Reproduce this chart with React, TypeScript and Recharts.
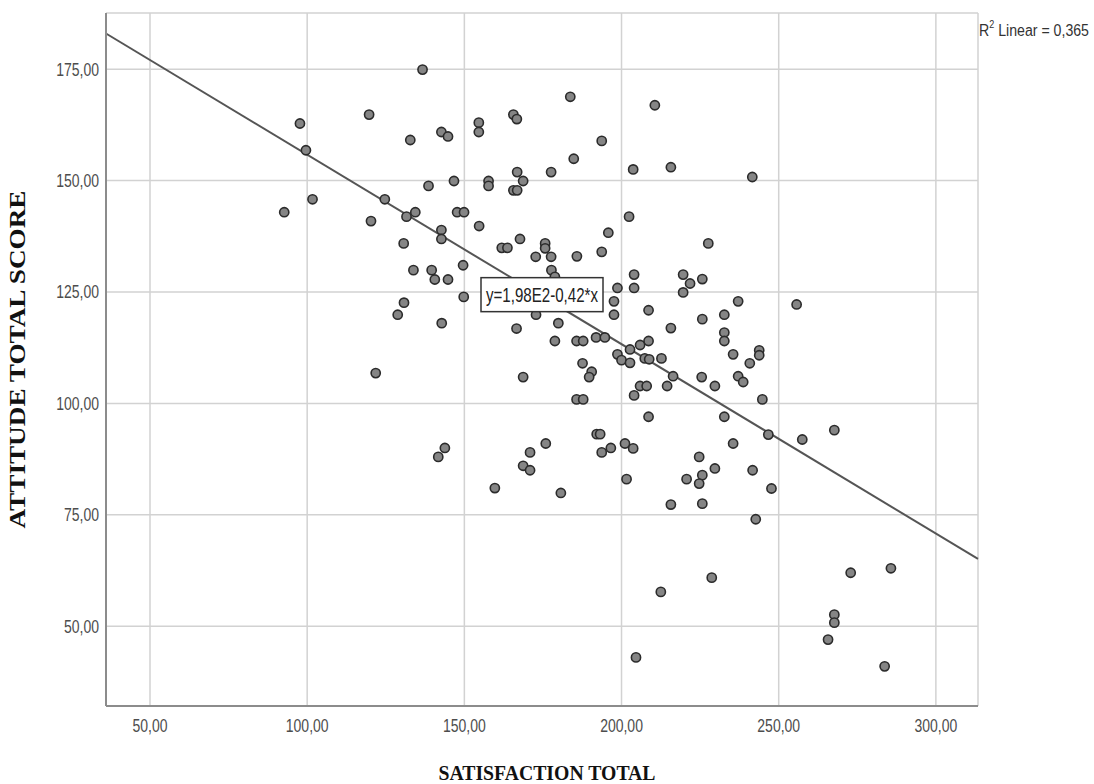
import {
  ScatterChart,
  Scatter,
  XAxis,
  YAxis,
  CartesianGrid,
  ReferenceLine,
  ReferenceDot,
} from "recharts";

// SATISFACTION TOTAL (x) and ATTITUDE TOTAL SCORE (y)
const satisfaction = [
  97.7, 99.6, 119.7, 101.7, 92.7, 124.7, 120.3, 136.7, 183.7, 210.6,
  132.8, 142.7, 144.8, 154.6, 154.6, 165.6, 166.7, 193.7, 184.8, 203.7,
  215.7, 177.6, 166.8, 168.7, 165.6, 166.8, 157.7, 157.7, 146.7, 138.6,
  131.6, 134.4, 147.7, 149.9, 154.7, 142.7, 142.7, 130.7, 202.4, 195.8,
  227.6, 167.7, 161.9, 163.7, 175.7, 175.7, 172.7, 177.6, 185.8, 193.7,
  149.6, 241.6, 133.8, 139.6, 140.6, 144.8, 149.8, 130.8, 128.8, 142.8,
  121.8, 177.7, 178.8, 172.8, 166.6, 179.9, 178.8, 185.7, 187.8, 191.9,
  194.7, 187.6, 190.5, 189.7, 168.7, 185.7, 187.8, 192.1, 193.2, 143.8,
  141.7, 175.9, 170.9, 168.7, 170.9, 159.7, 180.7, 193.7, 196.6, 201.1,
  203.7, 201.6, 198.7, 204.0, 204.0, 197.6, 197.6, 219.6, 221.8, 219.6,
  225.7, 237.1, 208.6, 215.7, 225.7, 232.7, 232.7, 232.7, 235.5, 237.1,
  208.6, 205.9, 202.7, 198.7, 200.0, 202.7, 207.4, 208.8, 212.7, 216.4,
  214.5, 205.9, 208.0, 204.0, 225.5, 229.7, 208.6, 232.7, 235.5, 224.7,
  229.7, 225.7, 224.7, 220.7, 215.7, 225.7, 255.7, 243.8, 243.8, 240.8,
  238.7, 244.8, 246.7, 257.5, 267.7, 241.7, 247.7, 242.7, 272.9, 285.7,
  267.7, 267.7, 265.7, 283.7, 212.5, 228.7, 204.6,
];

const attitude = [
  162.8, 156.8, 164.8, 145.8, 142.9, 145.8, 140.9, 174.9, 168.8, 166.9,
  159.1, 160.9, 159.9, 163.0, 160.9, 164.8, 163.8, 158.9, 154.9, 152.5,
  153.0, 151.9, 151.9, 149.9, 147.8, 147.8, 149.9, 148.8, 149.9, 148.8,
  141.9, 142.9, 142.9, 142.9, 139.8, 138.9, 136.9, 135.9, 141.9, 138.3,
  135.9, 136.9, 134.9, 134.9, 135.9, 134.8, 132.9, 132.9, 133.0, 134.0,
  131.0, 150.8, 129.9, 129.9, 127.8, 127.8, 123.9, 122.6, 119.9, 118.0,
  106.8, 129.9, 128.4, 119.9, 116.8, 118.0, 114.0, 114.0, 114.0, 114.8,
  114.8, 109.0, 107.1, 105.9, 105.9, 100.9, 100.9, 93.1, 93.1, 90.0,
  88.0, 91.0, 89.0, 86.0, 85.0, 81.0, 79.9, 89.0, 90.0, 91.0,
  89.9, 83.0, 125.9, 128.9, 125.9, 122.9, 119.9, 128.9, 126.9, 124.9,
  127.9, 122.9, 120.9, 116.9, 118.9, 119.9, 115.9, 114.0, 111.0, 106.1,
  114.0, 113.1, 112.1, 111.0, 109.7, 109.1, 110.1, 109.9, 110.1, 106.1,
  103.9, 103.9, 103.9, 101.8, 105.9, 103.9, 97.0, 97.0, 91.0, 88.0,
  85.4, 83.9, 82.0, 83.0, 77.3, 77.5, 122.2, 111.9, 110.8, 109.0,
  104.8, 100.9, 93.0, 91.9, 94.0, 85.0, 80.9, 74.0, 62.0, 63.0,
  52.6, 50.8, 47.0, 41.0, 57.7, 60.9, 43.0,
];

const xTicks = [50, 100, 150, 200, 250, 300];
const yTicks = [50, 75, 100, 125, 150, 175];
const xDomain = [36, 313.4];
const yDomain = [32.1, 187.6];

// fit line endpoints at the plot edges (y = 1,98E2 - 0,42*x)
const fitLine = [
  { x: 36, y: 183.0 },
  { x: 313.4, y: 65.1 },
];
const equationText = "y=1,98E2-0,42*x";
const equationAnchor = { x: 174.7, y: 124.4 };
const rSquared = "0,365";

const points = satisfaction.map((x, i) => ({ x, y: attitude[i] }));

const fmt = (v: number) => v.toFixed(2).replace(".", ",");

const tickFont = "'Liberation Sans', Arial, sans-serif";
const titleFont = "'Liberation Serif', 'Times New Roman', serif";

const XTick = ({ x, y, payload }: any) => (
  <g transform={`translate(${x},${y + 26}) scale(1,1.3)`}>
    <text textAnchor="middle" fontSize={14} fontFamily={tickFont} fill="#4d4d4d">
      {fmt(payload.value)}
    </text>
  </g>
);

const YTick = ({ x, y, payload }: any) => (
  <g transform={`translate(${x - 7},${y + 6.5}) scale(1,1.3)`}>
    <text textAnchor="end" fontSize={14} fontFamily={tickFont} fill="#4d4d4d">
      {fmt(payload.value)}
    </text>
  </g>
);

const Dot = (props: any) => (
  <circle cx={props.cx} cy={props.cy} r={4.6} fill="#858585" stroke="#2b2b2b" strokeWidth={1.6} />
);

const EquationBox = (props: any) => {
  const { cx, cy } = props;
  return (
    <g>
      <rect x={cx - 61} y={cy - 17} width={122} height={34} fill="#fff" stroke="#333" strokeWidth={1.5} />
      <g transform={`translate(${cx},${cy + 7}) scale(1,1.3)`}>
        <text textAnchor="middle" fontSize={15} fontFamily={tickFont} fill="#222" textLength={112} lengthAdjust="spacingAndGlyphs">
          {equationText}
        </text>
      </g>
    </g>
  );
};

const XTitle = ({ viewBox }: any) => (
  <text
    x={viewBox.x + viewBox.width / 2 + 5}
    y={viewBox.y + 74}
    textAnchor="middle"
    fontSize={22}
    fontWeight="bold"
    fontFamily={titleFont}
    fill="#111"
    textLength={217}
    lengthAdjust="spacingAndGlyphs"
  >
    SATISFACTION TOTAL
  </text>
);

const YTitle = ({ viewBox }: any) => {
  const cx = 25;
  const cy = viewBox.y + viewBox.height / 2;
  return (
    <text
      transform={`translate(${cx},${cy}) rotate(-90)`}
      textAnchor="middle"
      fontSize={23}
      fontWeight="bold"
      fontFamily={titleFont}
      fill="#111"
      textLength={338}
      lengthAdjust="spacingAndGlyphs"
    >
      ATTITUDE TOTAL SCORE
    </text>
  );
};

export default function App() {
  return (
    <div style={{ position: "absolute", left: 0, top: 0, width: 1094, height: 784, background: "#fff" }}>
      <ScatterChart width={1094} height={784} margin={{ top: 13, right: 116, bottom: 0, left: 0 }}>
        <CartesianGrid stroke="#d2d2d2" strokeWidth={1.5} />
        <XAxis
          type="number"
          dataKey="x"
          domain={xDomain}
          ticks={xTicks}
          allowDataOverflow
          height={78}
          tickSize={0}
          tickMargin={0}
          tickLine={false}
          axisLine={{ stroke: "#8c8c8c", strokeWidth: 2 }}
          tick={<XTick />}
          label={{ content: <XTitle /> }}
        />
        <YAxis
          type="number"
          dataKey="y"
          domain={yDomain}
          ticks={yTicks}
          allowDataOverflow
          width={106}
          tickSize={0}
          tickMargin={0}
          tickLine={false}
          axisLine={{ stroke: "#8c8c8c", strokeWidth: 2 }}
          tick={<YTick />}
          label={{ content: <YTitle /> }}
        />
        <Scatter data={points} shape={<Dot />} isAnimationActive={false} />
        <ReferenceLine
          segment={fitLine}
          stroke="#555"
          strokeWidth={2}
          ifOverflow="visible"
        />
        <ReferenceDot
          x={equationAnchor.x}
          y={equationAnchor.y}
          r={0}
          ifOverflow="visible"
          shape={<EquationBox />}
        />
      </ScatterChart>
      <svg width={1094} height={784} style={{ position: "absolute", left: 0, top: 0, pointerEvents: "none" }}>
        <g transform="translate(979,36) scale(1,1.3)">
          <text fontSize={12.5} fontFamily={tickFont} fill="#333" textLength={110} lengthAdjust="spacingAndGlyphs">
            R<tspan fontSize={8} dy={-6}>2</tspan>
            <tspan dy={6}> Linear = {rSquared}</tspan>
          </text>
        </g>
      </svg>
    </div>
  );
}
